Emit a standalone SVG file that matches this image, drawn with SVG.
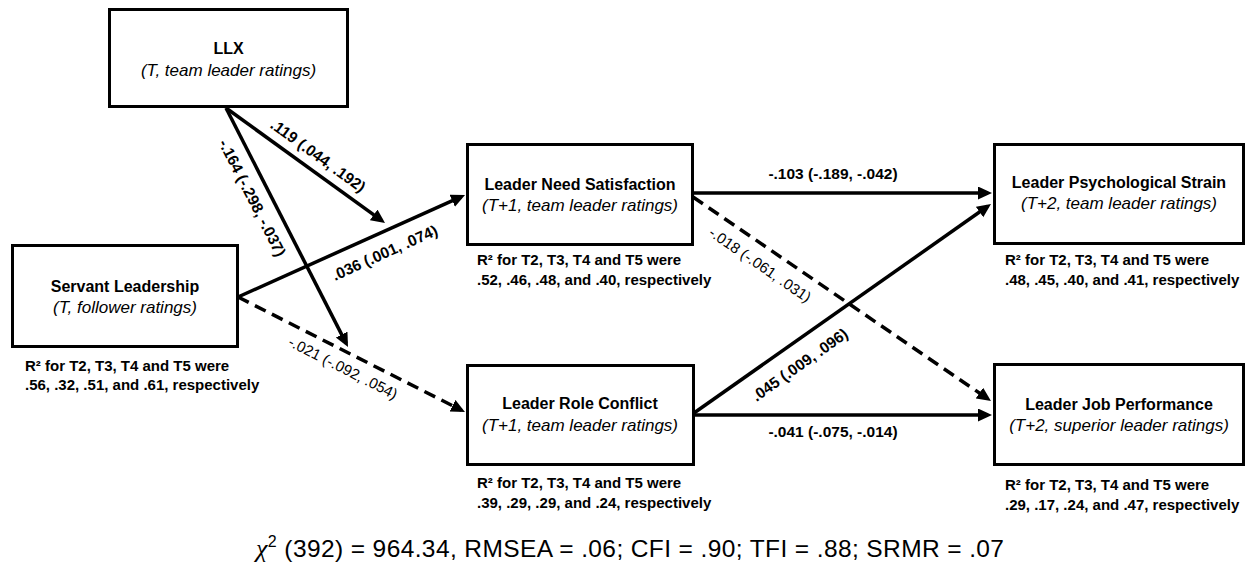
<svg xmlns="http://www.w3.org/2000/svg" width="1251" height="566" viewBox="0 0 1251 566">
<style>
.box{fill:#fff;stroke:#000;stroke-width:3}
.t{font-family:"Liberation Sans",Arial,sans-serif;font-weight:bold;font-size:16px;fill:#000;text-anchor:middle}
.s{font-family:"Liberation Sans",Arial,sans-serif;font-style:italic;font-size:17px;fill:#000;text-anchor:middle}
.r{font-family:"Liberation Sans",Arial,sans-serif;font-weight:bold;font-size:15px;fill:#000}
.c{fill:none;stroke:#000;stroke-width:3.5}
.d{stroke-dasharray:12 7}
.lb{font-family:"Liberation Sans",Arial,sans-serif;font-weight:bold;font-size:15.5px;fill:#000;text-anchor:middle}
.lr{font-family:"Liberation Sans",Arial,sans-serif;font-size:15px;fill:#000;text-anchor:middle}
.f{font-family:"Liberation Sans",Arial,sans-serif;font-size:24.5px;fill:#000}
</style>
<defs>
<marker id="ah" markerUnits="userSpaceOnUse" markerWidth="16" markerHeight="14" refX="10" refY="6.5" orient="auto">
<path d="M0,0 L14,6.5 L0,13 z" fill="#000"/>
</marker>
</defs>
<rect width="1251" height="566" fill="#fff"/>
<g id="connectors">
<line class="c" x1="226" y1="108" x2="381.8" y2="220.7" marker-end="url(#ah)"/>
<line class="c" x1="226" y1="108" x2="346.2" y2="343.4" marker-end="url(#ah)"/>
<line class="c" x1="238" y1="297" x2="461.4" y2="196.6" marker-end="url(#ah)"/>
<line class="c d" x1="238" y1="297" x2="461.4" y2="410.2" marker-end="url(#ah)"/>
<line class="c" x1="692" y1="193" x2="988" y2="193" marker-end="url(#ah)"/>
<line class="c d" x1="693" y1="197" x2="987.7" y2="398.7" marker-end="url(#ah)"/>
<line class="c" x1="694" y1="415" x2="988" y2="415" marker-end="url(#ah)"/>
<line class="c" x1="694" y1="413" x2="987.7" y2="206.3" marker-end="url(#ah)"/>
<text class="lb" transform="translate(315,160) rotate(35.9)">.119 (.044, .192)</text>
<text class="lb" transform="translate(247.5,200.3) rotate(63)">-.164 (-.298, -.037)</text>
<text class="lb" transform="translate(387,257.6) rotate(-24.2)">.036 (.001, .074)</text>
<text class="lr" transform="translate(340.7,372.5) rotate(26.9)">-.021 (-.092, .054)</text>
<text class="lr" transform="translate(757.2,269.1) rotate(34.6)">-.018 (-.061, .031)</text>
<text class="lb" transform="translate(802.9,369.1) rotate(-35.3)">.045 (.009, .096)</text>
<text class="lb" x="833" y="179">-.103 (-.189, -.042)</text>
<text class="lb" x="833" y="437">-.041 (-.075, -.014)</text>
</g>
<g id="llx">
<rect class="box" x="109.5" y="9.5" width="238" height="97"/>
<text class="t" x="228.5" y="54">LLX</text>
<text class="s" x="228.5" y="76">(T, team leader ratings)</text>
</g>
<g id="servant">
<rect class="box" x="12.5" y="245.5" width="225" height="101"/>
<text class="t" x="125" y="292">Servant Leadership</text>
<text class="s" x="125" y="313">(T, follower ratings)</text>
<text class="r" x="25" y="371">R² for T2, T3, T4 and T5 were</text>
<text class="r" x="25" y="390">.56, .32, .51, and .61, respectively</text>
</g>
<g id="needsat">
<rect class="box" x="467.5" y="144.5" width="225" height="100"/>
<text class="t" x="580" y="190">Leader Need Satisfaction</text>
<text class="s" x="580" y="211">(T+1, team leader ratings)</text>
<text class="r" x="477" y="265">R² for T2, T3, T4 and T5 were</text>
<text class="r" x="477" y="285">.52, .46, .48, and .40, respectively</text>
</g>
<g id="roleconf">
<rect class="box" x="467.5" y="365.5" width="226" height="99"/>
<text class="t" x="580" y="409">Leader Role Conflict</text>
<text class="s" x="580" y="431">(T+1, team leader ratings)</text>
<text class="r" x="477" y="488">R² for T2, T3, T4 and T5 were</text>
<text class="r" x="477" y="508">.39, .29, .29, and .24, respectively</text>
</g>
<g id="strain">
<rect class="box" x="994.5" y="144.5" width="249" height="99"/>
<text class="t" x="1119" y="188">Leader Psychological Strain</text>
<text class="s" x="1119" y="209">(T+2, team leader ratings)</text>
<text class="r" x="1005" y="265">R² for T2, T3, T4 and T5 were</text>
<text class="r" x="1005" y="285">.48, .45, .40, and .41, respectively</text>
</g>
<g id="jobperf">
<rect class="box" x="994.5" y="364.5" width="249" height="100"/>
<text class="t" x="1119" y="410">Leader Job Performance</text>
<text class="s" x="1119" y="431">(T+2, superior leader ratings)</text>
<text class="r" x="1005" y="490">R² for T2, T3, T4 and T5 were</text>
<text class="r" x="1005" y="510">.29, .17, .24, and .47, respectively</text>
</g>
<g id="fit">
<text class="f" x="256" y="557" textLength="748" lengthAdjust="spacing"><tspan font-family="'Liberation Serif',serif" font-style="italic" font-size="26">χ</tspan><tspan font-size="16" dy="-10">2</tspan><tspan dy="10"> (392) = 964.34, RMSEA = .06; CFI = .90; TFI = .88; SRMR = .07</tspan></text>
</g>
</svg>
